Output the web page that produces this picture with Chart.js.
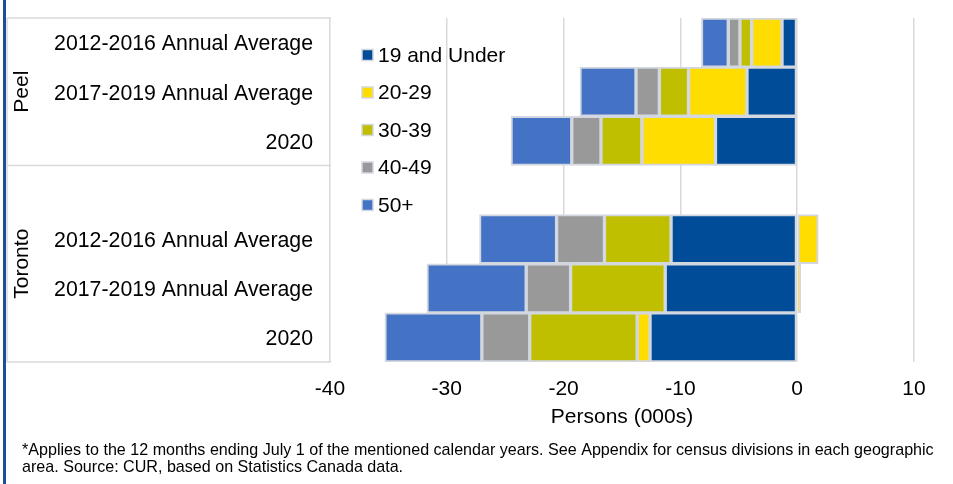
<!DOCTYPE html>
<html>
<head>
<meta charset="utf-8">
<style>
  html, body { margin: 0; padding: 0; background: #ffffff; }
  #wrap { width: 953px; height: 484px; position: relative; }
  canvas { display: block; }
</style>
<script src="https://cdn.jsdelivr.net/npm/chart.js@4/dist/chart.umd.min.js"></script>
</head>
<body>
<div id="wrap"><canvas id="chart" width="953" height="484"></canvas></div>
<script>
// Net migration by age group, persons (000s)
const categories = [
  '2012-2016 Annual Average', '2017-2019 Annual Average', '2020',
  '',
  '2012-2016 Annual Average', '2017-2019 Annual Average', '2020'
];
const groupNames = ['Peel', 'Toronto'];
const groupStarts = [0, 3];
const groupEnds = [2, 6];

const seriesNames = ['19 and Under', '20-29', '30-39', '40-49', '50+'];
const under19  = [-1.3, -4.3, -7.0, null, -10.8, -11.3, -12.6];
const age20_29 = [-2.6, -5.0, -6.3, null,   1.8,   0.3,  -1.1];
const age30_39 = [-1.0, -2.5, -3.5, null,  -5.7,  -8.1,  -9.2];
const age40_49 = [-1.0, -2.0, -2.5, null,  -4.1,  -3.8,  -4.1];
const age50up  = [-2.3, -4.8, -5.2, null,  -6.6,  -8.5,  -8.3];

const xTickValues = [-40, -30, -20, -10, 0, 10];
const axisTitle = 'Persons (000s)';
const footnote = [
  '*Applies to the 12 months ending July 1 of the mentioned calendar years. See Appendix for census divisions in each geographic',
  'area. Source: CUR, based on Statistics Canada data.'
];

const seriesColors = ['#004C99', '#FFDD00', '#BFBF00', '#999999', '#4472C4'];
const FONT = '"Liberation Sans", Arial, sans-serif';
const LINE = '#d9d9d9';

const seriesValues = [under19, age20_29, age30_39, age40_49, age50up];
const datasets = seriesNames.map((name, i) => ({
  label: name,
  data: seriesValues[i],
  backgroundColor: seriesColors[i],
  borderColor: '#d3d7df',
  borderWidth: 2,
  borderSkipped: false,
  barPercentage: 1,
  categoryPercentage: 1
}));

// Category table frame, rotated group names, legend and footnote
const decorPlugin = {
  id: 'decor',
  beforeDatasetsDraw(chart) {
    const ctx = chart.ctx;
    const area = chart.chartArea;
    const y = chart.scales.y;
    const left = 7;
    const right = area.left + 1;
    ctx.save();
    ctx.strokeStyle = LINE;
    ctx.lineWidth = 1.5;
    const bounds = [area.top];
    groupEnds.forEach((e, gi) => {
      if (gi < groupEnds.length - 1) {
        bounds.push((y.getPixelForValue(e) + y.getPixelForValue(e + 1)) / 2);
      }
    });
    bounds.push(area.bottom);
    ctx.beginPath();
    bounds.forEach(b => { ctx.moveTo(left, b); ctx.lineTo(right, b); });
    ctx.moveTo(left, area.top); ctx.lineTo(left, area.bottom);
    ctx.stroke();

    // rotated group names
    ctx.fillStyle = '#000';
    ctx.font = '21px ' + FONT;
    ctx.textAlign = 'center';
    ctx.textBaseline = 'middle';
    groupNames.forEach((g, gi) => {
      const cy = (bounds[gi] + bounds[gi + 1]) / 2;
      ctx.save();
      ctx.translate(22, cy);
      ctx.rotate(-Math.PI / 2);
      ctx.fillText(g, 0, 0);
      ctx.restore();
    });
    ctx.restore();
  },
  afterDraw(chart) {
    const ctx = chart.ctx;
    const area = chart.chartArea;
    ctx.save();
    // legend
    ctx.font = '21px ' + FONT;
    ctx.textAlign = 'left';
    ctx.textBaseline = 'middle';
    chart.data.datasets.forEach((ds, i) => {
      const cy = area.top + 37 + i * 37.5;
      const bx = area.left + 32;
      ctx.fillStyle = ds.backgroundColor;
      ctx.fillRect(bx, cy - 5.5, 11, 11);
      ctx.strokeStyle = '#d3d7df';
      ctx.lineWidth = 1.5;
      ctx.strokeRect(bx, cy - 5.5, 11, 11);
      ctx.fillStyle = '#000';
      ctx.fillText(ds.label, bx + 16, cy + 1);
    });
    // footnote
    ctx.font = '16.1px ' + FONT;
    ctx.fillStyle = '#000';
    footnote.forEach((line, i) => ctx.fillText(line, 22, 451 + i * 17));
    // page frame rule
    ctx.fillStyle = '#1a4f9c';
    ctx.fillRect(3, 0, 3, chart.height);
    ctx.restore();
  }
};

new Chart(document.getElementById('chart'), {
  type: 'bar',
  data: { labels: categories, datasets },
  options: {
    indexAxis: 'y',
    responsive: false,
    animation: false,
    devicePixelRatio: 1,
    layout: { padding: { top: 18, right: 39, bottom: 53, left: 0 } },
    plugins: { legend: { display: false }, tooltip: { enabled: false } },
    scales: {
      x: {
        stacked: true,
        min: xTickValues[0],
        max: xTickValues[xTickValues.length - 1],
        afterBuildTicks(scale) { scale.ticks = xTickValues.map(v => ({ value: v })); },
        grid: { color: LINE, lineWidth: 1.5, drawTicks: false },
        border: { display: false },
        ticks: { color: '#000', font: { family: FONT, size: 21 }, padding: 15, maxRotation: 0 },
        title: { display: true, text: axisTitle, color: '#000', font: { family: FONT, size: 21 }, padding: { top: 0, bottom: 1 } },
        afterFit(scale) { scale.height = 69; }
      },
      y: {
        stacked: true,
        grid: { display: false, drawTicks: false },
        border: { display: false },
        ticks: { color: '#000', font: { family: FONT, size: 21.3 }, padding: 17, autoSkip: false, labelOffset: 2 },
        afterFit(scale) {
          scale.width = 330;
          scale.paddingTop = 0;
          scale.paddingBottom = 0;
        }
      }
    }
  },
  plugins: [decorPlugin]
});
</script>
</body>
</html>
